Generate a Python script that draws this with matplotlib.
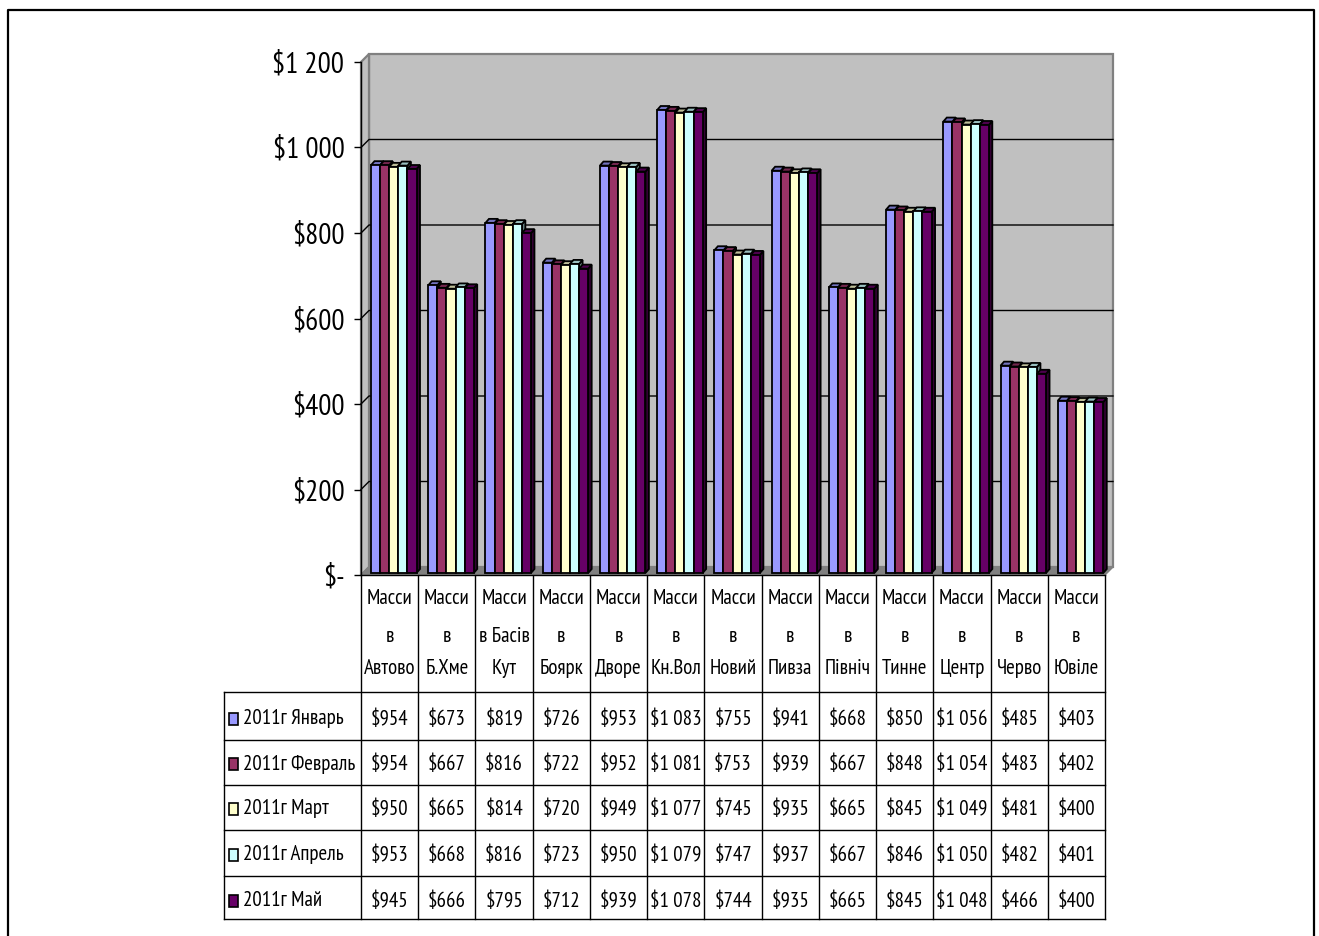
import matplotlib
matplotlib.use('Agg')
import matplotlib.pyplot as plt
from matplotlib import font_manager
from matplotlib.patches import Polygon, Rectangle

installed = {f.name for f in font_manager.fontManager.ttflist}
wanted = ['Liberation Sans Narrow', 'PT Sans Narrow', 'Roboto Condensed', 'Liberation Sans', 'DejaVu Sans']
plt.rcParams['font.family'] = [n for n in wanted if n in installed]

categories = ['Масси\nв\nАвтово', 'Масси\nв\nБ.Хме', 'Масси\nв Басів\nКут', 'Масси\nв\nБоярк',
              'Масси\nв\nДворе', 'Масси\nв\nКн.Вол', 'Масси\nв\nНовий', 'Масси\nв\nПивза',
              'Масси\nв\nПівніч', 'Масси\nв\nТинне', 'Масси\nв\nЦентр', 'Масси\nв\nЧерво',
              'Масси\nв\nЮвіле']
jan = [954, 673, 819, 726, 953, 1083, 755, 941, 668, 850, 1056, 485, 403]
feb = [954, 667, 816, 722, 952, 1081, 753, 939, 667, 848, 1054, 483, 402]
mar = [950, 665, 814, 720, 949, 1077, 745, 935, 665, 845, 1049, 481, 400]
apr = [953, 668, 816, 723, 950, 1079, 747, 937, 667, 846, 1050, 482, 401]
may = [945, 666, 795, 712, 939, 1078, 744, 935, 665, 845, 1048, 466, 400]
series = [jan, feb, mar, apr, may]
series_names = ['2011г Январь', '2011г Февраль', '2011г Март', '2011г Апрель', '2011г Май']
colors = ['#9999ff', '#993366', '#ffffcc', '#ccffff', '#660066']
y_ticks = [0, 200, 400, 600, 800, 1000, 1200]
y_labels = ['$-', '$200', '$400', '$600', '$800', '$1 000', '$1 200']

W, H = 1319, 936
fig = plt.figure(figsize=(W / 100, H / 100), dpi=100, facecolor='white')

# page layer, in pixels
page = fig.add_axes([0, 0, 1, 1])
page.axis('off')

# chart layer
left, right, top, bottom = 361, 1105, 62, 575
ax = fig.add_axes([left / W, 1 - bottom / H, (right - left) / W, (bottom - top) / H])
ax.set_xlim(0, 13)
ax.set_ylim(0, 1200)
ax.patch.set_alpha(0)

px_x = 13 / (right - left)
px_y = 1200 / (bottom - top)
dx, dy = 8 * px_x, 8 * px_y


def face(pts, fc, ec='black', lw=1.3, z=1):
    ax.add_patch(Polygon(pts, closed=True, fc=fc, ec=ec, lw=lw, zorder=z, clip_on=False))


# walls and floor
face([(dx, dy), (13 + dx, dy), (13 + dx, 1200 + dy), (dx, 1200 + dy)], '#c0c0c0', '#808080', 1.6)
face([(0, 0), (dx, dy), (dx, 1200 + dy), (0, 1200)], '#c0c0c0', '#808080', 1.6)
face([(0, 0), (13, 0), (13 + dx, dy), (dx, dy)], '#808080', '#808080', 1.0)
for t in y_ticks[1:-1]:
    ax.plot([0, dx, 13 + dx], [t, t + dy, t + dy], color='black', lw=1.0, zorder=2, clip_on=False)

# bars
bar_w = 9.1 * px_x
start = 10 * px_x
bd_x, bd_y = 3.5 * px_x, 4 * px_y
base = 2 * px_y
for i in range(len(categories)):
    for j, vals in enumerate(series):
        x0 = i + start + j * bar_w
        x1 = x0 + bar_w
        y0, y1 = base, vals[i] + base
        rgb = matplotlib.colors.to_rgb(colors[j])
        shade_top = tuple(c * 0.75 for c in rgb)
        shade_side = tuple(c * 0.5 for c in rgb)
        z = 3 + j * 0.1
        face([(x1, y0), (x1 + bd_x, y0 + bd_y), (x1 + bd_x, y1 + bd_y), (x1, y1)], shade_side, z=z)
        face([(x0, y1), (x1, y1), (x1 + bd_x, y1 + bd_y), (x0 + bd_x, y1 + bd_y)], shade_top, z=z)
        face([(x0, y0), (x1, y0), (x1, y1), (x0, y1)], colors[j], z=z)

for s in ['top', 'right']:
    ax.spines[s].set_visible(False)
ax.spines['left'].set_zorder(2)
ax.spines['left'].set_linewidth(1.0)
ax.spines['bottom'].set_linewidth(1.0)
ax.set_xticks([])
ax.set_yticks(y_ticks)
ax.set_yticklabels(y_labels, fontsize=21)
ax.tick_params(axis='y', length=5, width=1.0, pad=7)

# data table below the chart
col_w = (right - left) / len(categories)
table_left = 224
row_edges = [692, 740, 785, 830, 876, 919]
row_text = [719, 764, 809, 855, 901]
line_y = [598, 636, 669]
table_size = 15

for i in range(len(categories) + 1):
    page.plot([left + i * col_w] * 2, [bottom, row_edges[-1]], color='black', lw=1.0)
page.plot([table_left] * 2, [row_edges[0], row_edges[-1]], color='black', lw=1.0)
for y in row_edges:
    page.plot([table_left, right], [y, y], color='black', lw=1.0)

for i, cat in enumerate(categories):
    cx = left + (i + 0.5) * col_w
    for yy, part in zip(line_y, cat.split('\n')):
        page.text(cx, yy, part, ha='center', va='center', fontsize=table_size)

for r, (name, vals) in enumerate(zip(series_names, series)):
    cy = row_text[r]
    page.add_patch(Rectangle((229, cy - 6), 9, 12, fc=colors[r], ec='black', lw=1.2))
    page.text(243, cy, name, ha='left', va='center', fontsize=table_size)
    for i, v in enumerate(vals):
        label = f'${v}' if v < 1000 else f'${v // 1000} {v % 1000:03d}'
        page.text(left + (i + 0.5) * col_w, cy, label, ha='center', va='center', fontsize=table_size)

# outer frame, runs past the bottom edge
page.plot([8, 8, 1314, 1314], [940, 9.5, 9.5, 940], color='black', lw=1.6)
page.set_xlim(0, W)
page.set_ylim(H, 0)

fig.savefig('out.png', dpi=100)
